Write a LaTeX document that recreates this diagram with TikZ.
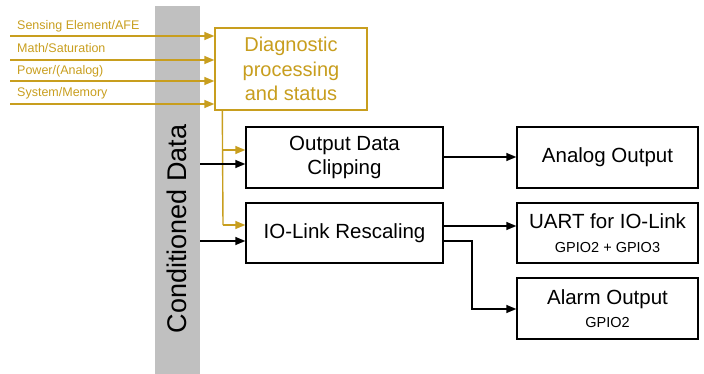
\documentclass[tikz,border=0pt]{standalone}
\usepackage{fontspec}
\setmainfont{Liberation Sans}
\usetikzlibrary{arrows.meta}
\definecolor{gold}{RGB}{200,158,30}
\definecolor{barg}{RGB}{192,192,192}
\newcommand\gpiosize{\fontsize{14.5}{16}\selectfont}
\begin{document}
\begin{tikzpicture}[x=1pt,y=-1pt,
  blk/.style={draw=black,line width=1.4pt,fill=white,inner sep=0pt,align=center,font=\fontsize{20.5}{24.5}\selectfont},
  arr/.style={line width=1.4pt,-{Triangle[length=10pt,width=8pt]}},
  garr/.style={draw=gold,line width=1.4pt,-{Triangle[length=10pt,width=8pt]}},
  glab/.style={anchor=west,inner sep=0pt,text=gold,font=\fontsize{12.5}{14}\selectfont}]
\useasboundingbox (0,0) rectangle (704,374);
% gray bar
\node[fill=barg,minimum width=45pt,minimum height=368pt,inner sep=0pt] (bar) at (177.5,190) {};
\node[rotate=90,inner sep=0pt,font=\fontsize{27}{30}\selectfont] (bartxt) at (177,229) {Conditioned Data};
% diagnostic box
\node[blk,draw=gold,text=gold,minimum width=152pt,minimum height=82pt,font=\fontsize{20}{24.5}\selectfont] (diag) at (291,69) {Diagnostic\\processing\\and status};
% blocks
\node[blk,minimum width=197pt,minimum height=61pt] (clip) at (344.5,157.5) {Output Data\\Clipping};
\node[blk,minimum width=197pt,minimum height=60pt] (iol) at (344.5,233) {IO-Link Rescaling};
\node[blk,minimum width=181pt,minimum height=61pt] (analog) at (607.5,157.5) {Analog Output};
\node[blk,minimum width=181pt,minimum height=60pt] (uart) at (607.5,233) {UART for IO-Link\\[-1pt]{\gpiosize GPIO2 + GPIO3}};
\node[blk,minimum width=181pt,minimum height=61pt] (alarm) at (607.5,308.5) {Alarm Output\\[-1pt]{\gpiosize GPIO2}};
% gold input labels and lines
\node[glab] (l1) at (17,26) {Sensing Element/AFE};
\node[glab] (l2) at (17,48) {Math/Saturation};
\node[glab] (l3) at (17,71) {Power/(Analog)};
\node[glab] (l4) at (17,93) {System/Memory};
\coordinate (s1) at (10,36);
\coordinate (s2) at (10,60);
\coordinate (s3) at (10,81);
\coordinate (s4) at (10,104);
\draw[garr] (s1) -- (s1 -| diag.west);
\draw[garr] (s2) -- (s2 -| diag.west);
\draw[garr] (s3) -- (s3 -| diag.west);
\draw[garr] (s4) -- (s4 -| diag.west);
% gold distribution
\coordinate (gtop) at ([xshift=8pt]diag.south west);
\coordinate (g1) at (223,150);
\coordinate (g2) at (223,225);
\draw[draw=gold,line width=1.4pt] (gtop) -- (g2);
\draw[garr] (g1) -- (g1 -| clip.west);
\draw[garr] (g2) -- (g2 -| iol.west);
% conditioned data inputs
\coordinate (c1) at (200,164);
\coordinate (c2) at (200,241);
\draw[arr] (c1) -- (c1 -| clip.west);
\draw[arr] (c2) -- (c2 -| iol.west);
% outputs
\coordinate (o1) at (443,157);
\coordinate (o2) at (443,226);
\coordinate (o3) at (443,241);
\coordinate (bend) at (472,309);
\draw[arr] (o1) -- (o1 -| analog.west);
\draw[arr] (o2) -- (o2 -| uart.west);
\draw[arr] (o3) -| (bend) -- (bend -| alarm.west);
\end{tikzpicture}
\end{document}
